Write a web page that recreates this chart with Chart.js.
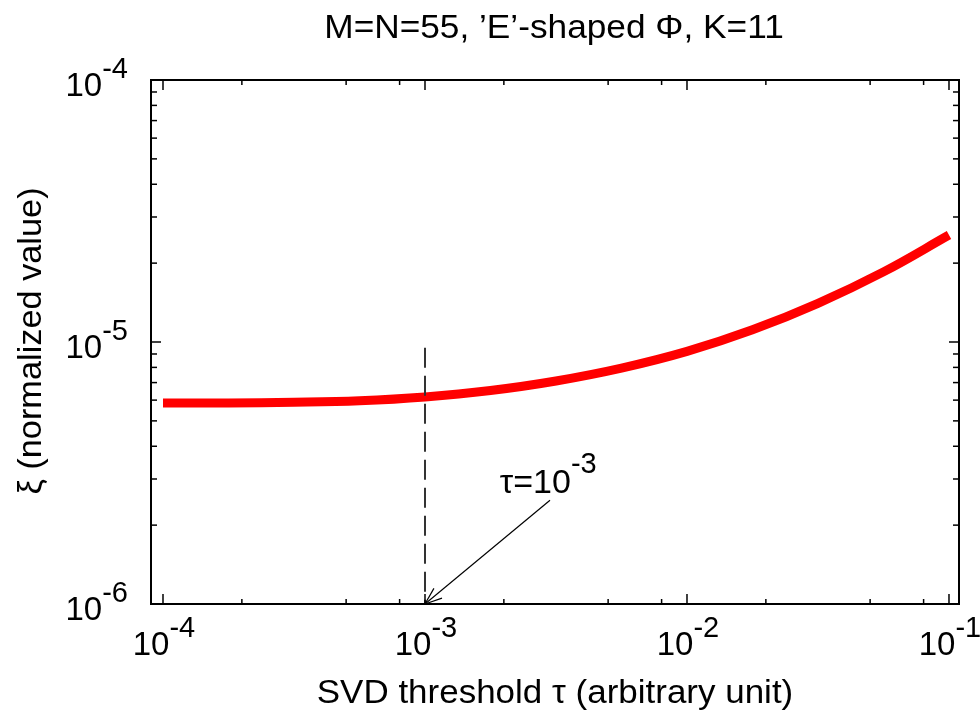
<!DOCTYPE html>
<html>
<head>
<meta charset="utf-8">
<script src="https://cdn.jsdelivr.net/npm/chart.js@4.4.1/dist/chart.umd.min.js"></script>
<style>
    html, body { margin: 0; padding: 0; background: #fff; }
    #grafica { display: block; }
</style>
</head>
<body>
<canvas id="grafica" width="980" height="711"></canvas>
<script>
// datos (cuatro puntos por decada)
const umbralTau = [1e-4, 1.778e-4, 3.162e-4, 5.623e-4, 1e-3, 1.778e-3, 3.162e-3, 5.623e-3, 1e-2, 1.778e-2, 3.162e-2, 5.623e-2, 1e-1];
const valoresXi = [5.846e-6, 5.856e-6, 5.886e-6, 5.965e-6, 6.167e-6, 6.53e-6, 7.10e-6, 7.95e-6, 9.21e-6, 1.113e-5, 1.405e-5, 1.852e-5, 2.56e-5];

const ticksMayoresX = [1e-4, 1e-3, 1e-2, 1e-1];
const exponentesX = ["-4", "-3", "-2", "-1"];
const ticksMenoresX = [2e-4, 5e-4, 8e-4, 2e-3, 5e-3, 8e-3, 2e-2, 5e-2, 8e-2];
const ticksMayoresY = [1e-6, 1e-5, 1e-4];
const exponentesY = ["-6", "-5", "-4"];
const ticksMenoresY = [2e-6, 3e-6, 4e-6, 5e-6, 6e-6, 7e-6, 8e-6, 9e-6, 2e-5, 3e-5, 4e-5, 5e-5, 6e-5, 7e-5, 8e-5, 9e-5];

// linea de corte y flecha en tau = 1e-3
const corteX = [1e-3, 1e-3];
const corteY = [9.5e-6, 1e-6];
const flechaX = [3.0e-3, 1e-3];
const flechaY = [2.49e-6, 1e-6];
const notaX = 1.93e-3;
const notaY = 2.65e-6;

const textoTitulo = "M=N=55, \u2019E\u2019-shaped \u03A6, K=11";
const textoEjeX = "SVD threshold \u03C4 (arbitrary unit)";
const textoEjeY = "\u03BE (normalized value)";
const textoNota = "\u03C4=10";
const exponenteNota = "-3";

const fuente = '"Liberation Sans", Arial, Helvetica, sans-serif';

function puntos(xs, ys) {
    return xs.map((x, i) => ({ x: x, y: ys[i] }));
}

function textoEstirado(ctx, texto, x, y, factor) {
    ctx.save();
    ctx.translate(x, y);
    ctx.scale(factor, 1);
    ctx.fillText(texto, 0, 0);
    ctx.restore();
}

function potencia(ctx, exp, px, py, alineacion, tam, tamSup, subida) {
    ctx.font = `${tam}px ${fuente}`;
    const anchoBase = ctx.measureText("10").width;
    ctx.font = `${tamSup}px ${fuente}`;
    const anchoExp = ctx.measureText(exp).width;
    const total = anchoBase + anchoExp;
    let inicio = px;
    if (alineacion === "center") inicio = px - total / 2;
    if (alineacion === "right") inicio = px - total;
    ctx.textAlign = "left";
    ctx.textBaseline = "alphabetic";
    ctx.font = `${tam}px ${fuente}`;
    ctx.fillText("10", inicio, py);
    ctx.font = `${tamSup}px ${fuente}`;
    ctx.fillText(exp, inicio + anchoBase, py - subida);
}

const marcoYEtiquetas = {
    id: "marcoYEtiquetas",
    afterDatasetsDraw(chart) {
        const { ctx } = chart;
        const meta = chart.getDatasetMeta(2);
        const cola = meta.data[0];
        const punta = meta.data[1];
        const angulo = Math.atan2(punta.y - cola.y, punta.x - cola.x);
        ctx.save();
        ctx.strokeStyle = "#000";
        ctx.lineWidth = 1.2;
        [0.36, -0.36].forEach(d => {
            ctx.beginPath();
            ctx.moveTo(punta.x, punta.y);
            ctx.lineTo(punta.x - 18 * Math.cos(angulo + d), punta.y - 18 * Math.sin(angulo + d));
            ctx.stroke();
        });
        ctx.restore();
    },
    afterDraw(chart) {
        const { ctx, chartArea: area, scales: { x, y } } = chart;
        ctx.save();
        ctx.strokeStyle = "#000";
        ctx.fillStyle = "#000";

        const marca = (x1, y1, x2, y2) => {
            ctx.beginPath();
            ctx.moveTo(x1, y1);
            ctx.lineTo(x2, y2);
            ctx.stroke();
        };

        ctx.lineWidth = 1.5;
        ticksMayoresX.forEach(v => {
            const px = x.getPixelForValue(v);
            marca(px, area.bottom, px, area.bottom - 10);
            marca(px, area.top, px, area.top + 10);
        });
        ticksMenoresX.forEach(v => {
            const px = x.getPixelForValue(v);
            marca(px, area.bottom, px, area.bottom - 5);
            marca(px, area.top, px, area.top + 5);
        });
        ticksMayoresY.forEach(v => {
            const py = y.getPixelForValue(v);
            marca(area.left, py, area.left + 10, py);
            marca(area.right, py, area.right - 10, py);
        });
        ticksMenoresY.forEach(v => {
            const py = y.getPixelForValue(v);
            marca(area.left, py, area.left + 6, py);
            marca(area.right, py, area.right - 6, py);
        });

        ctx.lineWidth = 2;
        ctx.strokeRect(area.left, area.top, area.right - area.left, area.bottom - area.top);

        // etiquetas de ticks
        ticksMayoresX.forEach((v, i) => {
            potencia(ctx, exponentesX[i], x.getPixelForValue(v) + 1, area.bottom + 51, "center", 33, 29, 18);
        });
        ticksMayoresY.forEach((v, i) => {
            potencia(ctx, exponentesY[i], area.left - 23, y.getPixelForValue(v) + 16, "right", 33, 29, 18);
        });

        // nota de la flecha
        const nx = x.getPixelForValue(notaX);
        const ny = y.getPixelForValue(notaY);
        ctx.font = `34px ${fuente}`;
        ctx.textAlign = "left";
        ctx.fillText(textoNota, nx, ny);
        const anchoNota = ctx.measureText(textoNota).width;
        ctx.font = `29px ${fuente}`;
        ctx.fillText(exponenteNota, nx + anchoNota, ny - 20);

        // titulos
        ctx.textAlign = "center";
        ctx.font = `33px ${fuente}`;
        textoEstirado(ctx, textoTitulo, 554, 38, 1.068);
        textoEstirado(ctx, textoEjeX, 555, 703, 1.06);
        ctx.save();
        ctx.translate(41, 341);
        ctx.rotate(-Math.PI / 2);
        textoEstirado(ctx, textoEjeY, 0, 0, 1.04);
        ctx.restore();

        ctx.restore();
    }
};

new Chart(document.getElementById("grafica"), {
    type: "line",
    data: {
        datasets: [
            {
                label: "corte",
                data: puntos(corteX, corteY),
                borderColor: "#333",
                borderWidth: 2,
                borderDash: [20, 8],
                pointRadius: 0,
                order: 0
            },
            {
                label: "xi",
                data: puntos(umbralTau, valoresXi),
                borderColor: "#ff0000",
                borderWidth: 9,
                borderCapStyle: "butt",
                tension: 0.4,
                pointRadius: 0,
                order: 2
            },
            {
                label: "flecha",
                data: puntos(flechaX, flechaY),
                borderColor: "#000",
                borderWidth: 1.2,
                pointRadius: 0,
                order: 1
            }
        ]
    },
    options: {
        responsive: false,
        animation: false,
        devicePixelRatio: 1,
        layout: { padding: { left: 151, right: 21, top: 80, bottom: 107 } },
        plugins: { legend: { display: false }, tooltip: { enabled: false }, title: { display: false } },
        scales: {
            x: { type: "logarithmic", display: false, min: Math.pow(10, -4.0458), max: Math.pow(10, -0.9618) },
            y: { type: "logarithmic", display: false, min: 1e-6, max: 1e-4 }
        }
    },
    plugins: [marcoYEtiquetas]
});
</script>
</body>
</html>
